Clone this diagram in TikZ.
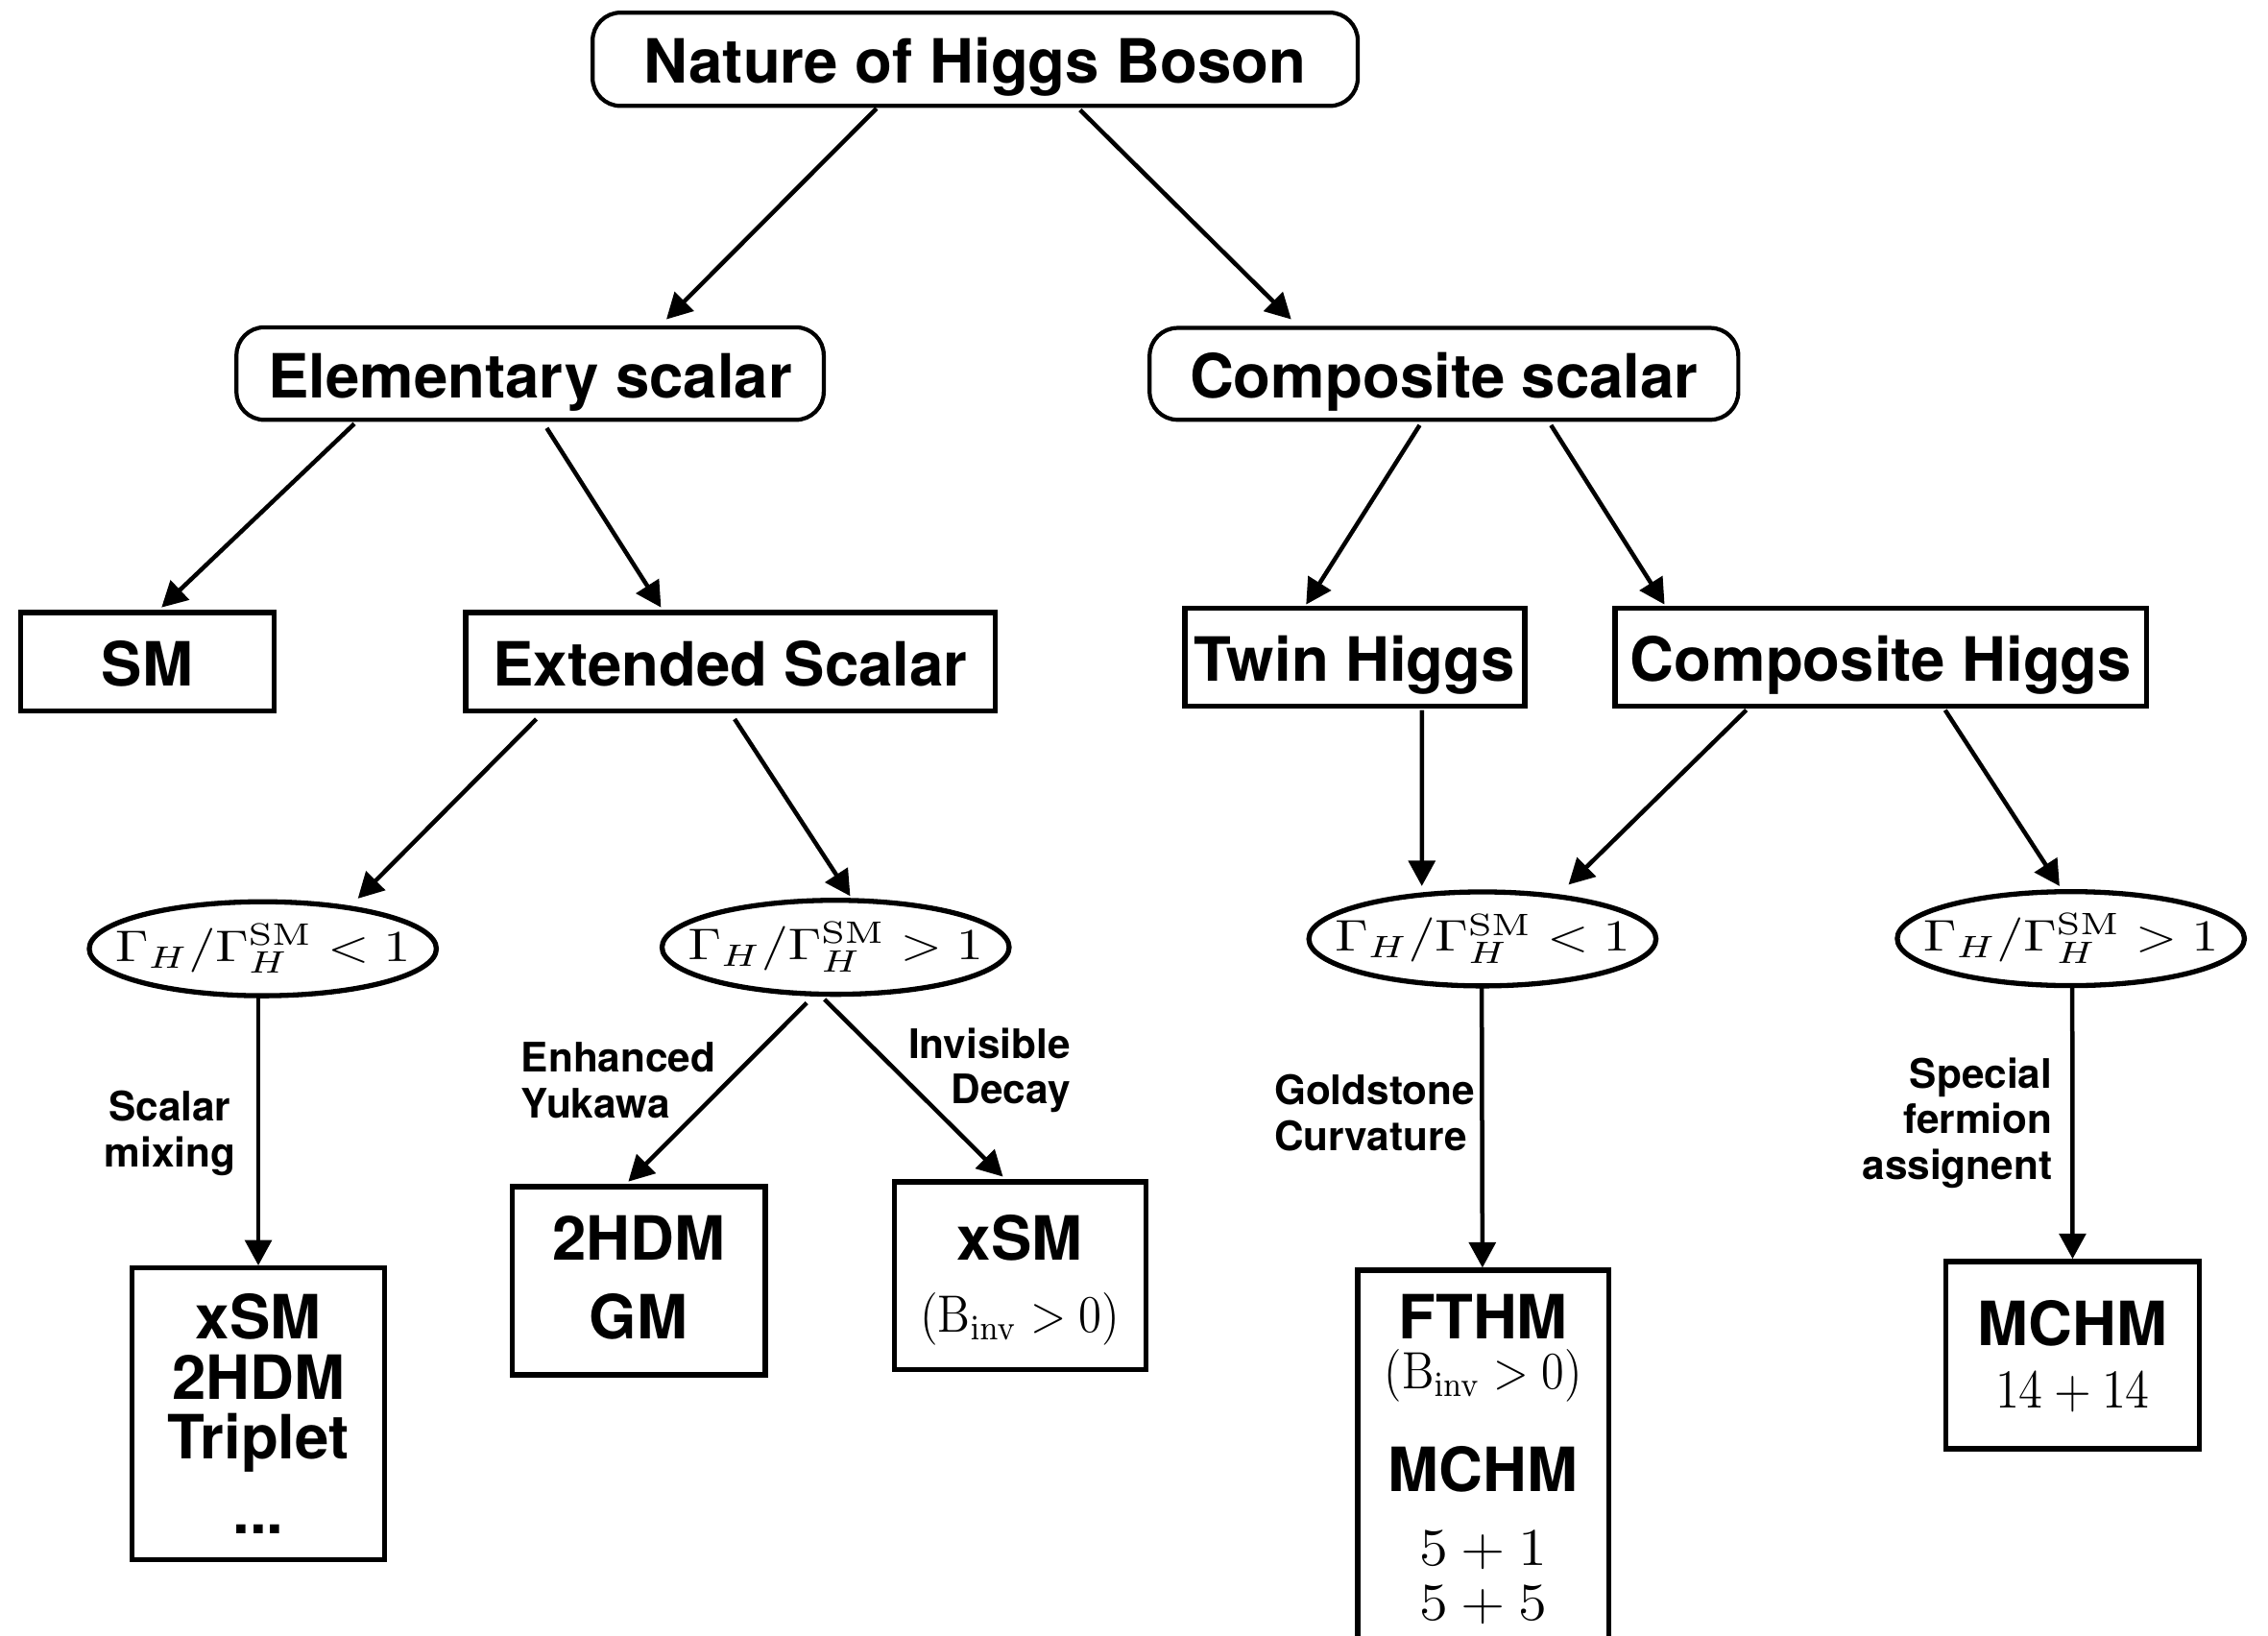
\documentclass[tikz,border=0pt]{standalone}
\usepackage[no-math]{fontspec}
\setsansfont{TeX Gyre Heros}
\usepackage{graphicx}
\usetikzlibrary{arrows.meta,calc,shapes.geometric}
\begin{document}
\begin{tikzpicture}[x=0.1mm,y=-0.1mm,
  bigfont/.style={font=\fontsize{12}{14}\selectfont\sffamily\bfseries},
  rbox/.style={draw, line width=0.8pt, rounded corners=5.5pt, inner sep=0pt, bigfont, text height=9.5pt, text depth=0pt},
  sbox/.style={draw, line width=1pt, inner sep=0pt, bigfont, text height=9.5pt, text depth=0pt},
  ebox/.style={draw, line width=1pt, inner sep=0pt},
  ell/.style={draw, ellipse, line width=1pt, inner xsep=-6pt, inner ysep=0pt, minimum width=24mm, minimum height=6.5mm},
  lbl/.style={font=\fontsize{8}{9}\selectfont\sffamily\bfseries, inner sep=0pt},
  txt/.style={bigfont, inner sep=0pt, anchor=base},
  arr/.style={line width=0.85pt, -{Triangle[length=5pt,width=5.2pt]}}]
\useasboundingbox (0,0) rectangle (1568,1131);
\fill[white] (0,0) rectangle (1568,1131);
\clip (0,0) rectangle (1568,1131);

% level 0
\node[rbox, minimum width=52.9mm, minimum height=6.45mm] (top) at (674.2,41) {Nature of Higgs Boson};
% level 1
\node[rbox, minimum width=40.6mm, minimum height=6.4mm] (elem) at (366.5,258.3) {Elementary scalar};
\node[rbox, minimum width=40.7mm, minimum height=6.35mm] (comp) at (998.3,258.5) {Composite scalar};
% level 2
\node[sbox, minimum width=17.5mm, minimum height=6.8mm] (sm) at (101.9,457.6) {SM};
\node[sbox, minimum width=36.6mm, minimum height=6.8mm] (ext) at (504.9,457.6) {Extended Scalar};
\node[sbox, minimum width=23.5mm, minimum height=6.75mm] (twin) at (936.6,454.5) {Twin Higgs};
\node[sbox, minimum width=36.75mm, minimum height=6.75mm] (ch) at (1300.4,454.5) {Composite Higgs};
% level 3 ellipses
\node[ell] (e1) at (181.7,656) {\scalebox{1.045}[0.87]{$\Gamma_H/\Gamma_H^{\mathrm{SM}}<1$}};
\node[ell] (e2) at (577.7,655) {\scalebox{1.045}[0.87]{$\Gamma_H/\Gamma_H^{\mathrm{SM}}>1$}};
\node[ell] (e3) at (1024.9,649.2) {\scalebox{1.045}[0.87]{$\Gamma_H/\Gamma_H^{\mathrm{SM}}<1$}};
\node[ell] (e4) at (1431.7,649) {\scalebox{1.045}[0.87]{$\Gamma_H/\Gamma_H^{\mathrm{SM}}>1$}};
% level 4 boxes
\node[ebox, minimum width=17.5mm, minimum height=20.15mm] (xbox) at (178.6,977.5) {};
\node[txt] (xa) at (178.6,926) {xSM};
\node[txt] (xb) at (178.6,967.8) {2HDM};
\node[txt] (xc) at (178.6,1008.7) {Triplet};
\node[txt] (xd) at (178.6,1060.4) {...};

\node[ebox, minimum width=17.5mm, minimum height=13mm] (hdm) at (441.5,885.6) {};
\node[txt] (ha) at (441.5,871.5) {2HDM};
\node[txt] (hb) at (441.5,926) {GM};

\node[ebox, minimum width=17.4mm, minimum height=13mm] (xsm) at (705.2,882.2) {};
\node[txt] (sa) at (705.2,871.5) {xSM};
\node[txt] (sb) at (705.2,920.9) {\scalebox{0.77}[0.86]{$(\mathrm{B}_{\mathrm{inv}}>0)$}};

\node[ebox, minimum width=17.35mm, minimum height=26mm] (fthm) at (1025.4,1008.3) {};
\node[txt] (fa) at (1025.4,926) {FTHM};
\node[txt] (fb) at (1025.4,960) {\scalebox{0.76}[0.86]{$(\mathrm{B}_{\mathrm{inv}}>0)$}};
\node[txt] (fc) at (1025.4,1031.5) {MCHM};
\node[txt] (fd) at (1025.4,1082.6) {\scalebox{0.955}[0.87]{$5+1$}};
\node[txt] (fe) at (1025.4,1120) {\scalebox{0.955}[0.87]{$5+5$}};

\node[ebox, minimum width=17.5mm, minimum height=12.95mm] (mchm) at (1432.9,937) {};
\node[txt] (ma) at (1432.9,930.4) {MCHM};
\node[txt] (mb) at (1432.9,973.6) {\scalebox{0.80}[0.9]{$14+14$}};

% edge labels
\node[lbl, align=center, anchor=north] (l1) at (117.4,753.6) {Scalar\\mixing};
\node[lbl, align=left, anchor=north west] (l2) at (359.7,720.2) {Enhanced\\Yukawa};
\node[lbl, align=right, anchor=north east] (l3) at (740.7,710) {Invisible\\Decay};
\node[lbl, align=left, anchor=north west] (l4) at (880.3,742.4) {Goldstone\\Curvature};
\node[lbl, align=right, anchor=north east] (l5) at (1419.5,730.5) {Special\\fermion\\assignent};

% connectors
\draw[arr] ($(top)+(-68.2,34)$) -- ($(elem)+(94.2,-37.5)$);
\draw[arr] ($(top)+(72.5,35)$) -- ($(comp)+(-105.6,-37.7)$);
\draw[arr] ($(elem)+(-121.5,34.7)$) -- ($(sm)+(9.8,-37.6)$);
\draw[arr] ($(elem)+(11.5,37.7)$) -- ($(ext)+(-47.9,-37.6)$);
\draw[arr] ($(comp)+(-16.8,35.5)$) -- ($(twin)+(-33.6,-36.5)$);
\draw[arr] ($(comp)+(74,35.5)$) -- ($(ch)+(-149.6,-36.5)$);
\draw[arr] ($(ext)+(-134.1,39.6)$) -- ($(e1)+(65.7,-34.7)$);
\draw[arr] ($(ext)+(3,39.6)$) -- ($(e2)+(10.1,-35.4)$);
\draw[arr] ($(twin)+(46.4,36.5)$) -- ($(e3)+(-41.9,-36.5)$);
\draw[arr] ($(ch)+(-93.1,36.5)$) -- ($(e3)+(59.5,-37.5)$);
\draw[arr] ($(ch)+(44.4,36.5)$) -- ($(e4)+(-7.8,-36.3)$);
\draw[arr] ($(e1)+(-3.1,34)$) -- (xbox.north);
\draw[arr] ($(e2)+(-19.9,38.4)$) -- ($(hdm)+(-7.1,-68.6)$);
\draw[arr] ($(e2)+(-7.7,36)$) -- ($(xsm)+(-11.8,-68.6)$);
\draw[arr] ($(e3)+(-0.5,33.8)$) -- ($(fthm.north)+(-0.5,0)$);
\draw[arr] ($(e4)+(1,34)$) -- (mchm.north);
\end{tikzpicture}
\end{document}
